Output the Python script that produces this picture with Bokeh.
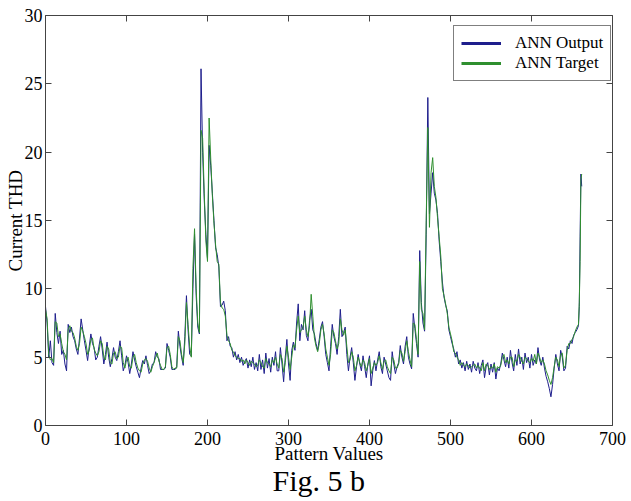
from bokeh.plotting import figure
from bokeh.models import Range1d, LinearAxis, Legend, LegendItem, FixedTicker, ColumnDataSource, Title
from bokeh.embed import file_html
from bokeh.resources import INLINE

# Pattern index, ANN output and ANN target
pattern = [
    0, 2, 4, 6, 8, 10, 12, 14, 16, 18, 20, 22, 24, 26, 28, 30, 32, 34, 36, 38,
    40, 42, 44, 46, 48, 50, 52, 54, 56, 58, 60, 62, 64, 66, 68, 70, 72, 74, 76, 78,
    80, 82, 84, 86, 88, 90, 92, 94, 96, 98, 100, 102, 104, 106, 108, 110, 112, 114, 116, 118,
    120, 122, 124, 126, 128, 130, 132, 134, 136, 138, 140, 142, 144, 146, 148, 150, 152, 154, 156, 158,
    160, 162, 164, 166, 168, 170, 172, 174, 176, 178, 180, 182, 184, 186, 188, 190, 192, 194, 196, 198,
    200, 202, 204, 206, 208, 210, 212, 214, 216, 218, 220, 222, 224, 226, 228, 230, 232, 234, 236, 238,
    240, 242, 244, 246, 248, 250, 252, 254, 256, 258, 260, 262, 264, 266, 268, 270, 272, 274, 276, 278,
    280, 282, 284, 286, 288, 290, 292, 294, 296, 298, 300, 302, 304, 306, 308, 310, 312, 314, 316, 318,
    320, 322, 324, 326, 328, 330, 332, 334, 336, 338, 340, 342, 344, 346, 348, 350, 352, 354, 356, 358,
    360, 362, 364, 366, 368, 370, 372, 374, 376, 378, 380, 382, 384, 386, 388, 390, 392, 394, 396, 398,
    400, 402, 404, 406, 408, 410, 412, 414, 416, 418, 420, 422, 424, 426, 428, 430, 432, 434, 436, 438,
    440, 442, 444, 446, 448, 450, 452, 454, 456, 458, 460, 462, 464, 466, 468, 470, 472, 474, 476, 478,
    480, 482, 484, 486, 488, 490, 492, 494, 496, 498, 500, 502, 504, 506, 508, 510, 512, 514, 516, 518,
    520, 522, 524, 526, 528, 530, 532, 534, 536, 538, 540, 542, 544, 546, 548, 550, 552, 554, 556, 558,
    560, 562, 564, 566, 568, 570, 572, 574, 576, 578, 580, 582, 584, 586, 588, 590, 592, 594, 596, 598,
    600, 602, 604, 606, 608, 610, 612, 614, 616, 618, 620, 622, 624, 626, 628, 630, 632, 634, 636, 638,
    640, 642, 644, 646, 648, 650, 652, 654, 656, 658, 659, 660, 661, 662,
]
ann_output = [
    8.7, 7.5, 5.0, 6.2, 4.6, 4.4, 8.2, 6.8, 6.0, 6.9, 5.2, 5.5, 4.5, 4.0, 7.4, 6.8, 7.2, 6.5, 6.2, 5.6,
    5.2, 6.4, 7.8, 7.0, 6.2, 5.5, 4.75, 5.8, 6.7, 6.0, 5.7, 4.8, 5.0, 5.8, 6.5, 5.6, 4.5, 5.2, 6.1, 5.0,
    4.3, 4.9, 5.7, 5.0, 4.75, 5.4, 6.2, 5.1, 4.0, 4.4, 5.1, 4.6, 3.8, 4.5, 5.4, 4.8, 4.3, 3.9, 3.5, 4.2,
    4.75, 4.5, 5.1, 4.4, 3.8, 4.0, 4.5, 4.6, 5.4, 5.0, 4.9, 4.1, 4.1, 4.1, 4.2, 6.0, 5.5, 5.0, 4.1, 4.1,
    4.1, 4.3, 6.9, 5.8, 5.0, 4.4, 6.5, 9.5, 7.0, 5.2, 5.1, 10.0, 14.0, 9.5, 7.2, 6.7, 26.1, 20.0, 16.5, 14.0,
    12.2, 20.5, 19.0, 17.0, 15.0, 13.0, 12.5, 11.6, 8.7, 8.8, 9.1, 8.4, 6.2, 6.5, 5.8, 5.7, 5.0, 5.4, 4.8, 5.2,
    4.6, 5.0, 4.4, 4.7, 4.9, 4.2, 4.8, 4.3, 5.0, 4.1, 4.6, 4.0, 5.2, 4.1, 4.8, 3.8, 5.3, 4.2, 4.9, 3.9,
    5.0, 4.4, 5.4, 4.0, 4.0, 5.7, 4.5, 3.2, 5.0, 6.3, 4.5, 3.3, 5.5, 6.1, 5.5, 7.5, 8.9, 6.2, 7.4, 7.0,
    8.4, 6.6, 6.2, 7.7, 8.5, 7.0, 6.7, 6.0, 5.5, 6.3, 7.2, 7.6, 6.5, 5.2, 4.6, 4.0, 5.8, 7.4, 6.5, 6.0,
    5.2, 6.5, 8.5, 6.5, 6.8, 7.2, 5.2, 4.0, 5.0, 5.7, 4.6, 3.3, 4.3, 5.2, 4.5, 4.0, 5.1, 4.3, 3.5, 4.5,
    5.1, 2.9, 4.0, 4.75, 4.0, 4.8, 5.4, 4.3, 3.8, 5.0, 4.5, 4.0, 3.5, 3.3, 5.4, 4.5, 3.8, 4.3, 4.6, 5.85,
    5.0, 4.5, 5.8, 6.5, 5.0, 4.5, 4.15, 8.2, 7.1, 6.0, 5.0, 12.8, 9.0, 7.5, 6.9, 14.0, 24.0, 15.5, 17.0, 18.5,
    17.0, 16.5, 15.5, 13.5, 12.0, 10.5, 9.4, 8.8, 8.4, 7.0, 6.5, 6.0, 5.6, 5.0, 5.4, 4.5, 4.8, 4.2, 4.6, 4.0,
    4.7, 4.1, 4.5, 3.9, 4.7, 4.2, 4.0, 4.6, 3.8, 4.4, 4.8, 3.5, 4.3, 4.6, 3.7, 4.5, 3.9, 4.6, 3.4, 4.2,
    4.0, 4.5, 5.3, 4.8, 4.3, 5.0, 4.2, 5.5, 4.6, 4.0, 5.2, 4.4, 5.6, 4.5, 5.0, 4.1, 5.3, 4.6, 5.0, 4.2,
    5.2, 4.4, 4.8, 4.5, 5.7, 4.8, 4.4, 5.0, 4.2, 3.6, 3.2, 2.7, 2.1, 3.0, 4.2, 5.2, 4.5, 4.0, 5.5, 5.0,
    4.0, 4.2, 5.8, 5.6, 6.2, 6.0, 6.6, 6.8, 7.0, 7.3, 8.7, 13.8, 18.4, 17.5,
]
ann_target = [
    8.5, 7.8, 5.2, 4.8, 4.9, 4.6, 7.6, 7.5, 6.5, 6.7, 6.0, 5.4, 5.2, 4.8, 7.0, 7.3, 6.9, 6.8, 6.4, 5.8,
    5.5, 6.0, 7.2, 6.9, 6.5, 6.0, 5.2, 5.5, 6.3, 6.4, 5.6, 5.3, 5.1, 5.4, 6.2, 6.0, 5.0, 4.8, 5.8, 5.6,
    4.6, 4.5, 5.3, 5.4, 4.9, 5.0, 5.8, 5.7, 4.6, 4.2, 4.8, 5.0, 4.3, 4.2, 5.0, 5.2, 4.6, 4.2, 4.0, 3.9,
    4.5, 4.8, 4.9, 4.7, 4.2, 3.9, 4.3, 4.6, 5.0, 5.3, 4.7, 4.4, 4.1, 4.1, 4.3, 5.7, 5.8, 5.2, 4.3, 4.1,
    4.2, 4.2, 6.5, 6.2, 5.2, 4.6, 6.0, 9.0, 7.4, 5.8, 5.0, 11.5, 14.4, 10.0, 7.5, 6.8, 21.6, 21.0, 17.0, 13.5,
    12.0, 22.5, 19.5, 16.8, 14.8, 13.2, 12.0, 11.8, 9.0, 8.6, 8.5, 8.0, 6.6, 6.2, 6.0, 5.5, 5.4, 5.1, 5.0, 4.9,
    4.9, 4.7, 4.8, 4.5, 4.8, 4.6, 4.4, 4.7, 4.6, 4.5, 4.3, 4.4, 4.8, 4.6, 4.3, 4.2, 4.9, 4.6, 4.5, 4.3,
    4.8, 4.6, 5.0, 4.5, 4.2, 5.2, 4.9, 3.9, 4.6, 5.8, 5.0, 4.1, 5.0, 5.9, 5.7, 7.0, 8.0, 6.8, 7.0, 7.2,
    8.0, 7.0, 6.5, 7.3, 9.6, 8.0, 6.4, 5.8, 5.4, 6.0, 7.0, 7.4, 6.7, 5.6, 5.0, 4.4, 5.2, 7.0, 6.8, 6.2,
    5.6, 6.0, 7.8, 7.0, 6.6, 7.0, 5.8, 4.6, 4.8, 5.4, 5.0, 4.0, 4.4, 5.0, 4.6, 4.3, 4.8, 4.6, 4.0, 4.4,
    4.9, 3.8, 4.2, 4.6, 4.4, 4.6, 5.1, 4.6, 4.1, 4.7, 4.8, 4.3, 4.0, 3.8, 5.0, 4.8, 4.2, 4.2, 4.5, 5.5,
    5.3, 4.7, 5.4, 6.2, 5.4, 4.8, 4.3, 7.5, 7.4, 6.3, 5.2, 12.0, 8.5, 8.2, 7.0, 15.0, 21.8, 14.5, 18.5, 19.6,
    17.5, 16.7, 15.2, 13.8, 12.4, 10.0, 9.5, 8.9, 8.2, 7.2, 6.7, 6.2, 5.4, 5.3, 5.0, 4.8, 4.4, 4.6, 4.4, 4.3,
    4.5, 4.4, 4.2, 4.3, 4.4, 4.5, 4.2, 4.4, 4.2, 4.0, 4.6, 4.0, 4.5, 4.4, 4.1, 4.3, 4.2, 4.5, 3.9, 4.3,
    4.2, 4.4, 5.0, 5.2, 4.6, 4.8, 4.5, 5.0, 5.0, 4.3, 4.8, 4.7, 5.2, 5.0, 4.7, 4.5, 5.0, 4.9, 4.7, 4.6,
    4.9, 4.7, 5.2, 4.5, 5.3, 5.0, 4.6, 4.8, 4.5, 4.0, 3.7, 3.3, 3.0, 3.5, 4.3, 5.0, 4.8, 4.3, 5.2, 5.3,
    4.2, 4.4, 5.5, 6.0, 6.0, 6.3, 6.5, 6.9, 7.2, 7.4, 9.0, 12.0, 18.0, 18.4,
]
x_ticks = [0, 100, 200, 300, 400, 500, 600, 700]
y_ticks = [0, 5, 10, 15, 20, 25, 30]
series_names = ["ANN Output", "ANN Target"]
series_colors = ["#1e1e8c", "#2f8f2f"]

FONT = "Liberation Serif"

src = ColumnDataSource(data=dict(x=pattern, out=ann_output, tgt=ann_target))

p = figure(width=630, height=500, output_backend="svg", toolbar_location=None,
           x_range=Range1d(0, 700), y_range=Range1d(0, 30),
           min_border_left=45, min_border_right=18, min_border_top=15, min_border_bottom=75,
           background_fill_color="white", border_fill_color="white")
p.grid.visible = False
p.outline_line_color = None

r_out = p.line("x", "out", source=src, line_color=series_colors[0], line_width=1)
r_tgt = p.line("x", "tgt", source=src, line_color=series_colors[1], line_width=1)

# hidden thicker twins used only for the legend swatches
l_out = p.line("x", "out", source=src, line_color=series_colors[0], line_width=3, visible=False)
l_tgt = p.line("x", "tgt", source=src, line_color=series_colors[1], line_width=3, visible=False)


def style_axis(ax, labels=True):
    ax.axis_line_color = "#444444"
    ax.major_tick_line_color = "#444444"
    ax.major_tick_in = 6
    ax.major_tick_out = 0
    ax.minor_tick_line_color = None
    ax.major_label_text_font = FONT
    ax.major_label_text_font_size = "18px"
    ax.major_label_text_color = "black"
    ax.axis_label_text_font = FONT
    ax.axis_label_text_font_style = "normal"
    ax.axis_label_text_font_size = "19px"
    ax.axis_label_text_color = "black"
    if not labels:
        ax.major_label_text_font_size = "0px"
        ax.major_label_standoff = 0


xa = p.xaxis[0]
ya = p.yaxis[0]
xa.ticker = FixedTicker(ticks=x_ticks)
ya.ticker = FixedTicker(ticks=y_ticks)
style_axis(xa)
style_axis(ya)
xa.axis_label = "Pattern Values"
ya.axis_label = "Current THD"
xa.major_label_standoff = 6
xa.axis_label_standoff = -5
ya.major_label_standoff = 3
ya.axis_label_standoff = -4

ra = LinearAxis(ticker=FixedTicker(ticks=y_ticks))
ta = LinearAxis(ticker=FixedTicker(ticks=x_ticks))
style_axis(ra, labels=False)
style_axis(ta, labels=False)
p.add_layout(ra, "right")
p.add_layout(ta, "above")

legend = Legend(items=[LegendItem(label=series_names[0], renderers=[l_out]),
                       LegendItem(label=series_names[1], renderers=[l_tgt])],
                location=(408, 344))
legend.label_text_font = FONT
legend.label_text_font_size = "17px"
legend.label_text_color = "black"
legend.border_line_color = "black"
legend.border_line_width = 1
legend.background_fill_alpha = 1
legend.padding = 7
legend.spacing = 0
legend.margin = 0
legend.glyph_width = 40
legend.glyph_height = 20
legend.label_height = 20
legend.label_standoff = 14
legend.click_policy = "none"
p.add_layout(legend, "center")

# caption below the chart
caption = Title(text="Fig. 5 b", align="left", vertical_align="top", text_font=FONT,
                text_font_size="30px", text_font_style="normal", text_color="black",
                standoff=-6, offset=227)
p.add_layout(caption, "below")

open("out.html", "w").write(file_html(p, INLINE))
